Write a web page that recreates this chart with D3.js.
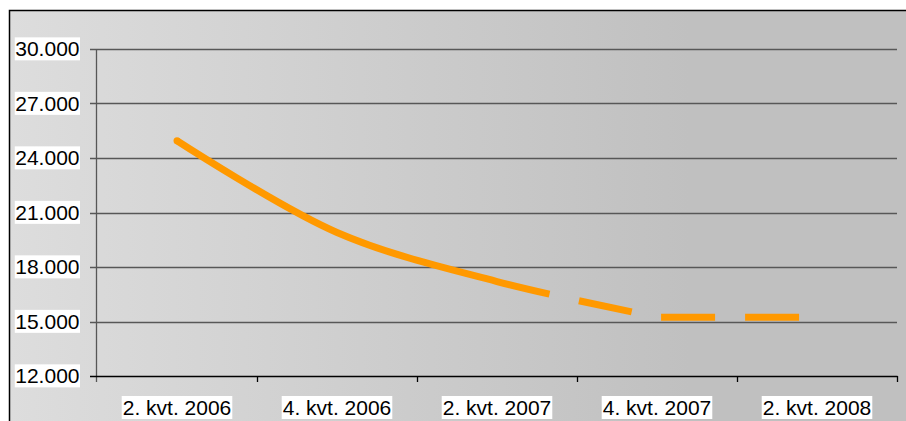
<!DOCTYPE html>
<html>
<head>
<meta charset="utf-8">
<script src="https://cdn.jsdelivr.net/npm/d3@7"></script>
<style>
  body { margin: 0; background: #fff; }
  text { font-family: "Liberation Sans", Arial, sans-serif; font-size: 21px; fill: #000; }
</style>
</head>
<body>
<div id="chart"></div>
<script>
// chart data
const categories = ["2. kvt. 2006", "4. kvt. 2006", "2. kvt. 2007", "4. kvt. 2007", "2. kvt. 2008"];
const values = [24950, 19900, 17200, 15240, 15240];
const yTicks = [12000, 15000, 18000, 21000, 24000, 27000, 30000];
const dashFrom = 2; // from this category on the line is dashed

const W = 906, H = 421;
const svg = d3.select("#chart").append("svg")
    .attr("width", W).attr("height", H);

const defs = svg.append("defs");
const grad = defs.append("linearGradient")
    .attr("id", "bg").attr("gradientUnits", "userSpaceOnUse")
    .attr("x1", 9).attr("y1", 0).attr("x2", 690).attr("y2", 0);
grad.append("stop").attr("offset", 0).attr("stop-color", "#dddddd");
grad.append("stop").attr("offset", 1).attr("stop-color", "#c0c0c0");

// chart area
svg.append("rect")
    .attr("x", 9).attr("y", 10).attr("width", W).attr("height", H)
    .attr("fill", "url(#bg)");
svg.append("path")
    .attr("d", `M9.5,${H} V10.5 H${W}`)
    .attr("fill", "none").attr("stroke", "#000").attr("stroke-width", 1.5);

const x = d3.scaleBand().domain(categories).range([97, 897]).padding(0);
const y = d3.scaleLinear().domain([12000, 30000]).range([376, 49]);
const cx = c => x(c) + x.bandwidth() / 2;

const fmt = d3.formatLocale({ decimal: ",", thousands: ".", grouping: [3], currency: ["", ""] }).format(",");

// gridlines
svg.append("g").selectAll("line").data(yTicks.slice(1)).join("line")
    .attr("x1", 90).attr("x2", 897)
    .attr("y1", d => Math.round(y(d)) + 0.5).attr("y2", d => Math.round(y(d)) + 0.5)
    .attr("stroke", "#575757").attr("stroke-width", 1.3);

// y axis
svg.append("line")
    .attr("x1", 96.5).attr("x2", 96.5).attr("y1", y(30000)).attr("y2", y(12000) + 6)
    .attr("stroke", "#575757").attr("stroke-width", 1.3);
// x axis
svg.append("line")
    .attr("x1", 90).attr("x2", 897.5)
    .attr("y1", Math.round(y(12000)) + 0.5).attr("y2", Math.round(y(12000)) + 0.5)
    .attr("stroke", "#000").attr("stroke-width", 1.3);
const edges = categories.map(c => x(c)).concat([x.range()[1]]);
svg.append("g").selectAll("line").data(edges.slice(1)).join("line")
    .attr("x1", d => Math.round(d) + 0.5).attr("x2", d => Math.round(d) + 0.5)
    .attr("y1", y(12000)).attr("y2", y(12000) + 6)
    .attr("stroke", "#000").attr("stroke-width", 1.3);

// y labels with white boxes
const yl = svg.append("g").selectAll("g").data(yTicks).join("g");
yl.append("text")
    .attr("x", 79.5).attr("y", d => y(d)).attr("dy", "0.35em")
    .attr("text-anchor", "end").text(d => fmt(d));
yl.each(function() {
    const g = d3.select(this);
    const b = g.select("text").node().getBBox();
    g.insert("rect", "text")
        .attr("x", b.x - 0.5).attr("y", b.y).attr("width", b.width + 1).attr("height", b.height)
        .attr("fill", "#fff");
});

// x labels with white boxes
const xl = svg.append("g").selectAll("g").data(categories).join("g");
xl.append("text")
    .attr("x", d => cx(d)).attr("y", 415)
    .attr("text-anchor", "middle").text(d => d);
xl.each(function() {
    const g = d3.select(this);
    const b = g.select("text").node().getBBox();
    g.insert("rect", "text")
        .attr("x", b.x - 1).attr("y", b.y).attr("width", b.width + 2).attr("height", b.height)
        .attr("fill", "#fff");
});

// the line: smoothed through the first four points, flat to the last one
const pts = categories.map((c, i) => [cx(c), y(values[i])]);
const smooth = d3.line().curve(d3.curveCatmullRom.alpha(0.5));
const straight = d3.line();
const dPath = smooth(pts.slice(0, 4)) + straight(pts.slice(3)).replace(/^M/, "L");
const path = svg.append("path")
    .attr("d", dPath)
    .attr("fill", "none").attr("stroke", "#ff9900").attr("stroke-width", 7)
    .attr("stroke-linecap", "butt");

// find the length where dashing starts
const node = path.node();
const total = node.getTotalLength();
const xStart = pts[dashFrom][0];
let lo = 0, hi = total;
for (let k = 0; k < 40; k++) {
    const mid = (lo + hi) / 2;
    if (node.getPointAtLength(mid).x < xStart) lo = mid; else hi = mid;
}
const dash = 54, gap = 30;
const arr = [lo + dash, gap];
let acc = lo + dash + gap;
while (acc < total + 200) { arr.push(dash, gap); acc += dash + gap; }
path.attr("stroke-dasharray", arr.join(" "));

svg.append("circle")
    .attr("cx", pts[0][0]).attr("cy", pts[0][1]).attr("r", 3.5)
    .attr("fill", "#ff9900");
</script>
</body>
</html>
